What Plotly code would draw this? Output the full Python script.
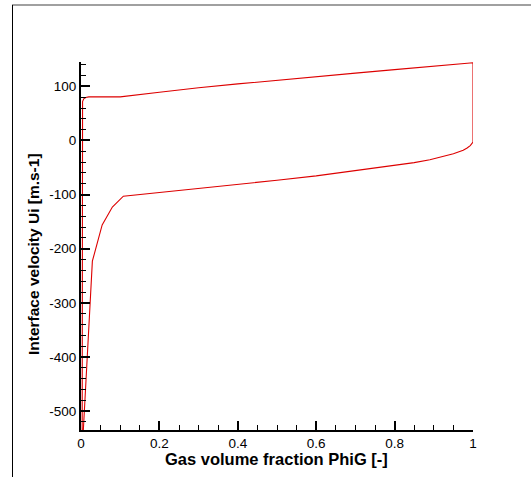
import plotly.graph_objects as go

# Loop of interface velocity vs gas volume fraction
phi_upper = [0.003, 0.003, 0.004, 0.007, 0.012, 0.02, 0.05, 0.08, 0.1, 0.2, 0.3, 0.4,
             0.5, 0.6, 0.7, 0.8, 0.9, 1.0]
ui_upper = [-535, 62, 72, 77, 79.5, 80.5, 80.5, 80, 80.5, 89, 97.5, 104.5,
            111.5, 118.5, 124.5, 131, 137, 143.5]

phi_lower = [1.0, 0.998, 0.993, 0.985, 0.975, 0.95, 0.92, 0.89, 0.85, 0.8, 0.7, 0.6, 0.5, 0.4,
             0.3, 0.2, 0.12, 0.108, 0.08, 0.054, 0.029, 0.006]
ui_lower = [-3, -5.5, -9.5, -14, -18, -24.5, -30.5, -35.5, -41, -46, -56.5, -65.5, -73.5, -81,
            -88.5, -96, -101.5, -103, -123, -156, -223, -535]

x_ticks = [0, 0.2, 0.4, 0.6, 0.8, 1]
x_labels = ["0", "0.2", "0.4", "0.6", "0.8", "1"]
y_ticks = [-500, -400, -300, -200, -100, 0, 100]
y_labels = ["-500", "-400", "-300", "-200", "-100", "0", "100"]

x_title = "Gas volume fraction PhiG [-]"
y_title = "Interface velocity Ui [m.s-1]"

phi = phi_upper + phi_lower
ui = ui_upper + ui_lower

fig = go.Figure()
fig.add_trace(go.Scatter(x=phi, y=ui, mode="lines",
                         line=dict(color="#dd0000", width=1.1),
                         showlegend=False, hoverinfo="skip"))

font = "Liberation Sans, Arial, sans-serif"
W, H = 392.0, 368.0  # plot area size in px
fig.update_layout(
    width=531, height=477,
    margin=dict(l=81, r=58, t=62, b=47),
    paper_bgcolor="white", plot_bgcolor="white",
    font=dict(family=font, size=13, color="black"),
    xaxis=dict(range=[0, 1], tickvals=x_ticks, ticktext=x_labels,
               showgrid=False, zeroline=False,
               showline=True, linecolor="black", linewidth=2,
               ticks="inside", ticklen=9, tickwidth=2, tickcolor="black",
               minor=dict(dtick=0.05, ticks="inside", ticklen=5, tickwidth=1, tickcolor="black"),
               tickfont=dict(size=13.5, family=font)),
    yaxis=dict(range=[-535, 145], tickvals=y_ticks, ticktext=y_labels,
               showgrid=False, zeroline=False,
               showline=True, linecolor="black", linewidth=2,
               ticks="inside", ticklen=9, tickwidth=2, tickcolor="black",
               minor=dict(dtick=20, ticks="inside", ticklen=5, tickwidth=1, tickcolor="black"),
               tickfont=dict(size=13.5, family=font)),
    annotations=[
        dict(text="<b>" + x_title + "</b>", xref="paper", yref="paper",
             x=(276.5 - 81) / W, y=(430 - 459) / H, xanchor="center", yanchor="middle",
             showarrow=False, font=dict(size=16.5, family=font, color="black")),
        dict(text="<b>" + y_title + "</b>", xref="paper", yref="paper",
             x=(33 - 81) / W, y=(430 - 254) / H, xanchor="center", yanchor="middle",
             textangle=-90, showarrow=False, font=dict(size=15.5, family=font, color="black")),
    ],
    shapes=[
        dict(type="line", xref="paper", yref="paper",
             x0=(12 - 81) / W, x1=(531 - 81) / W,
             y0=(430 - 5) / H, y1=(430 - 5) / H,
             line=dict(color="#808080", width=1.5)),
        dict(type="line", xref="paper", yref="paper",
             x0=(12.5 - 81) / W, x1=(12.5 - 81) / W,
             y0=(430 - 5) / H, y1=(430 - 480) / H,
             line=dict(color="black", width=1)),
    ],
)

fig.write_html("out.html")
